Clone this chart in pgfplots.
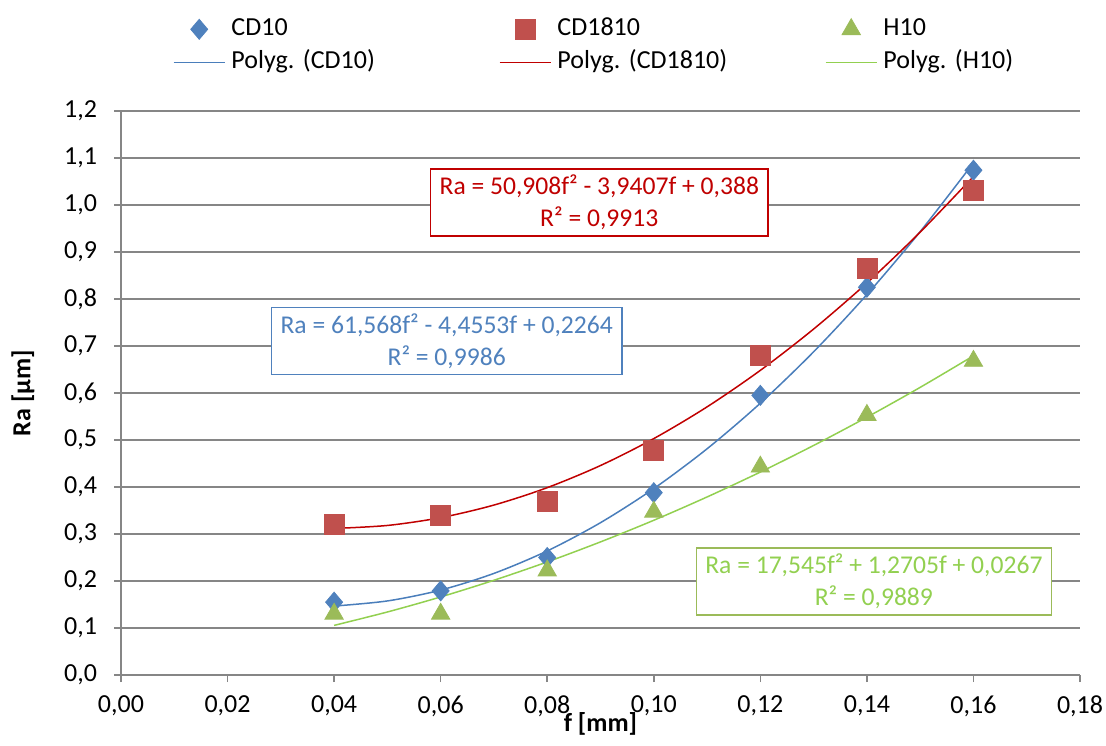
\documentclass[border=0pt]{standalone}
\usepackage{fontspec}
\setmainfont{Carlito}
\usepackage{pgfplots}
\pgfplotsset{compat=1.18}
\definecolor{cdblue}{HTML}{4F81BD}
\definecolor{cdred}{HTML}{C0504D}
\definecolor{hgreen}{HTML}{9BBB59}
\definecolor{tblue}{HTML}{4A7EBB}
\definecolor{tred}{HTML}{C00000}
\definecolor{tgreen}{HTML}{92D050}
\definecolor{gridgray}{HTML}{868686}
\pgfplotsset{
  markleg/.style={legend image code/.code={\path (0pt,0pt) (25.5pt,0pt); \draw[##1] plot coordinates {(12.75pt,0pt)};}},
  lineleg/.style={legend image code/.code={\draw[##1] (0pt,0pt)--(25.5pt,0pt);}},
}
\frenchspacing
\begin{document}
\begin{tikzpicture}[font=\fontsize{13}{15}\selectfont]
\path[use as bounding box] (-60.5pt,-35pt) rectangle (492.5pt,337.5pt);
\begin{axis}[
  scale only axis, width=479.5pt, height=282pt,
  xmin=0, xmax=0.18, ymin=0, ymax=1.2,
  xtick={0,0.02,0.04,0.06,0.08,0.10,0.12,0.14,0.16,0.18},
  ytick={0,0.1,0.2,0.3,0.4,0.5,0.6,0.7,0.8,0.9,1.0,1.1,1.2},
  axis x line*=bottom, axis y line*=left,
  axis line style={draw=gridgray, line width=0.75pt, -},
  tick align=outside, major tick length=3.5pt,
  tick style={draw=gridgray, line width=0.75pt},
  ymajorgrids, grid style={draw=gridgray, line width=0.75pt},
  /pgf/number format/assume math mode=true,
  xticklabel style={yshift=-3.5pt, /pgf/number format/.cd, fixed, fixed zerofill, precision=2, use comma},
  yticklabel style={xshift=-5pt, /pgf/number format/.cd, fixed, fixed zerofill, precision=1, use comma},
  xlabel={\bfseries f [mm]}, ylabel={\bfseries Ra [µm]},
  every axis x label/.style={at={(axis description cs:0.5,0)}, yshift=-24.5pt, anchor=center},
  every axis y label/.style={at={(axis description cs:0,0.5)}, xshift=-49pt, rotate=90, anchor=center},
  legend columns=3,
  legend cell align=left,
  legend style={draw=none, fill=none, inner sep=0pt, outer sep=0pt,
    at={(axis description cs:0.0542,1.167)}, anchor=north west,
    row sep=4pt, column sep=0pt,
    nodes={text width=130.75pt, align=left, inner xsep=3pt, inner ysep=0pt, text height=9.5pt, text depth=3pt}},
]
\addplot[only marks, mark=diamond*, mark size=5pt, color=cdblue, mark options={xscale=1.13}, markleg]
  coordinates {(0.04,0.155) (0.06,0.179) (0.08,0.250) (0.10,0.388) (0.12,0.595) (0.14,0.825) (0.16,1.074)};
\addlegendentry{CD10}
\addplot[only marks, mark=square*, mark size=5pt, color=cdred, markleg]
  coordinates {(0.04,0.320) (0.06,0.340) (0.08,0.369) (0.10,0.478) (0.12,0.680) (0.14,0.865) (0.16,1.031)};
\addlegendentry{CD1810}
\addplot[only marks, mark=triangle*, mark size=5.3pt, color=hgreen, markleg]
  coordinates {(0.04,0.130) (0.06,0.130) (0.08,0.222) (0.10,0.347) (0.12,0.443) (0.14,0.553) (0.16,0.668)};
\addlegendentry{H10}
\addplot[tblue, line width=0.75pt, smooth, mark=none, lineleg]
  coordinates {(0.04,0.1467) (0.05,0.1576) (0.06,0.1807) (0.07,0.2162) (0.08,0.2640) (0.09,0.3241) (0.10,0.3966) (0.11,0.4813) (0.12,0.5783) (0.13,0.6877) (0.14,0.8094) (0.15,0.9434) (0.16,1.0897)};
\addlegendentry{Polyg. (CD10)}
\addplot[tred, line width=0.75pt, smooth, mark=none, lineleg]
  coordinates {(0.04,0.3118) (0.05,0.3182) (0.06,0.3348) (0.07,0.3616) (0.08,0.3986) (0.09,0.4457) (0.10,0.5030) (0.11,0.5705) (0.12,0.6482) (0.13,0.7361) (0.14,0.8341) (0.15,0.9423) (0.16,1.0607)};
\addlegendentry{Polyg. (CD1810)}
\addplot[tgreen, line width=0.75pt, smooth, mark=none, lineleg]
  coordinates {(0.04,0.1056) (0.05,0.1341) (0.06,0.1661) (0.07,0.2016) (0.08,0.2406) (0.09,0.2832) (0.10,0.3292) (0.11,0.3788) (0.12,0.4318) (0.13,0.4884) (0.14,0.5485) (0.15,0.6120) (0.16,0.6791)};
\addlegendentry{Polyg. (H10)}
\node[draw=tred, line width=0.75pt, text=tred, fill=white, align=center, inner xsep=4.5pt, inner ysep=3pt, font=\fontsize{12.8}{16}\selectfont]
  at (axis cs:0.08977,1.005) {Ra = 50,908f² - 3,9407f + 0,388\\R² = 0,9913};
\node[draw=cdblue, line width=0.75pt, text=cdblue, fill=white, align=center, inner xsep=4.5pt, inner ysep=3pt, font=\fontsize{12.8}{16}\selectfont]
  at (axis cs:0.06113,0.7106) {Ra = 61,568f² - 4,4553f + 0,2264\\R² = 0,9986};
\node[draw=hgreen, line width=0.75pt, text=tgreen, fill=white, align=center, inner xsep=4.5pt, inner ysep=3pt, font=\fontsize{12.8}{16}\selectfont]
  at (axis cs:0.14131,0.1989) {Ra = 17,545f² + 1,2705f + 0,0267\\R² = 0,9889};
\end{axis}
\end{tikzpicture}
\end{document}
